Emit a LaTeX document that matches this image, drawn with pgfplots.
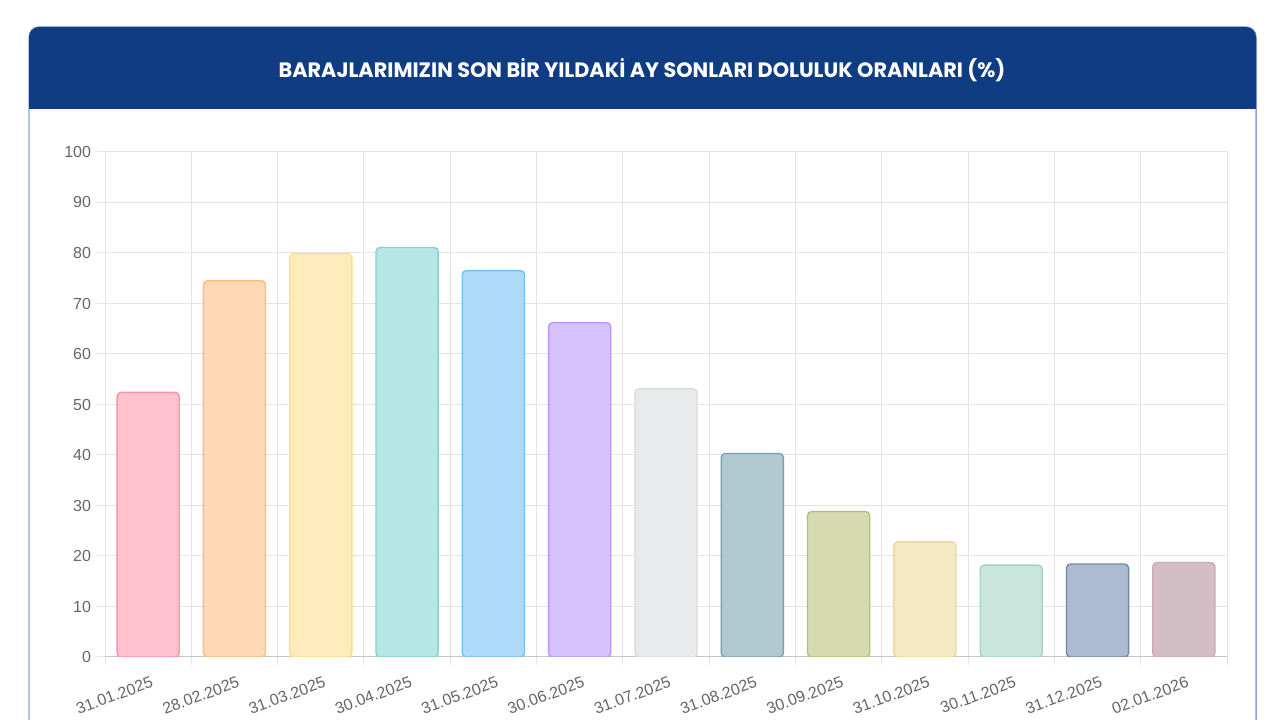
\documentclass[border=0pt]{standalone}
\usepackage{fontspec}
\usepackage{pgfplots}
\pgfplotsset{compat=1.18}
\setmainfont{Liberation Sans}
\newfontfamily\titlefont{Poppins}

\definecolor{headblue}{HTML}{0F3C82}
\definecolor{cardline}{HTML}{8EA6CF}
\definecolor{gridgray}{HTML}{E3E3E3}
\definecolor{ticktext}{HTML}{666666}
% bar fills / borders
\definecolor{f1}{HTML}{FFC1CE}\definecolor{b1}{RGB}{255,99,132}
\definecolor{f2}{HTML}{FFD9B3}\definecolor{b2}{RGB}{255,159,64}
\definecolor{f3}{HTML}{FFEBBB}\definecolor{b3}{RGB}{255,205,86}
\definecolor{f4}{HTML}{B7E6E6}\definecolor{b4}{RGB}{75,192,192}
\definecolor{f5}{HTML}{AFDAF7}\definecolor{b5}{RGB}{54,162,235}
\definecolor{f6}{HTML}{D6C2FF}\definecolor{b6}{RGB}{153,102,255}
\definecolor{f7}{HTML}{E9EAEC}\definecolor{b7}{RGB}{201,203,207}
\definecolor{f8}{HTML}{B0C9CE}\definecolor{b8}{RGB}{57,122,135}
\definecolor{f9}{HTML}{D5DAB0}\definecolor{b9}{RGB}{150,162,57}
\definecolor{f10}{HTML}{F5E9C5}\definecolor{b10}{RGB}{230,200,110}
\definecolor{f11}{HTML}{C9E5DC}\definecolor{b11}{RGB}{120,195,172}
\definecolor{f12}{HTML}{ADBBD0}\definecolor{b12}{RGB}{50,85,135}
\definecolor{f13}{HTML}{D4BEC6}\definecolor{b13}{RGB}{185,130,150}

\pgfplotsset{
  bar/.style n args={2}{ybar, bar width=0.72, bar shift=0pt,
    fill=#1, draw=#2!70!white, line width=1pt, rounded corners=3pt},
}

\begin{document}
\begin{tikzpicture}[x=0.75pt,y=0.75pt]
% canvas, 1 unit = 1 px of the reference
\fill[white] (0,0) rectangle (1280,720);
\useasboundingbox (0,0) rectangle (1280,720);

% card outline and header
\draw[cardline, line width=1.1pt] (29,0) -- (29,683) arc[start angle=180,end angle=90,radius=7.5pt]
  -- (1246,693) arc[start angle=90,end angle=0,radius=7.5pt] -- (1256,0);
\fill[headblue] (29,611) -- (29,683) arc[start angle=180,end angle=90,radius=7.5pt]
  -- (1246,693) arc[start angle=90,end angle=0,radius=7.5pt] -- (1256,611) -- cycle;
\node[text=white, font=\titlefont\bfseries\fontsize{15.6}{18}\selectfont] at (642,650)
  {BARAJLARIMIZIN SON BİR YILDAKİ AY SONLARI DOLULUK ORANLARI (\%)};

\begin{axis}[
  at={(78.75pt,47.25pt)}, anchor=south west,
  scale only axis, width=841.5pt, height=378.75pt,
  xmin=0.5, xmax=13.5, ymin=0, ymax=100,
  ytick={0,10,...,100},
  xtick={1,...,13},
  xticklabels={31.01.2025,28.02.2025,31.03.2025,30.04.2025,31.05.2025,30.06.2025,31.07.2025,
    31.08.2025,30.09.2025,31.10.2025,30.11.2025,31.12.2025,02.01.2026},
  minor xtick={0.5,1.5,...,13.5},
  xmajorgrids=false, xminorgrids=true, ymajorgrids=true,
  grid style={gridgray, line width=0.75pt},
  minor grid style={gridgray, line width=0.75pt},
  axis line style={draw=gridgray, line width=0.75pt},
  tick pos=left,
  tick align=outside,
  major tick length=6pt, minor tick length=6pt,
  tick style={gridgray, line width=0.75pt},
  every major x tick/.style={draw=none},
  /pgf/number format/assume math mode=true,
  ticklabel style={font=\fontsize{12}{14}\selectfont, text=ticktext},
  xticklabel style={rotate=20, anchor=north east, xshift=2pt, yshift=-5pt},
  yticklabel style={xshift=-1pt},
]
\draw[black!22, line width=0.75pt] (axis cs:0.5,0) -- (axis cs:13.5,0);
\addplot[bar={f1}{b1}]   coordinates {(1,52.4)};
\addplot[bar={f2}{b2}]   coordinates {(2,74.5)};
\addplot[bar={f3}{b3}]   coordinates {(3,79.9)};
\addplot[bar={f4}{b4}]   coordinates {(4,81.1)};
\addplot[bar={f5}{b5}]   coordinates {(5,76.5)};
\addplot[bar={f6}{b6}]   coordinates {(6,66.2)};
\addplot[bar={f7}{b7}]   coordinates {(7,53.1)};
\addplot[bar={f8}{b8}]   coordinates {(8,40.3)};
\addplot[bar={f9}{b9}]   coordinates {(9,28.8)};
\addplot[bar={f10}{b10}] coordinates {(10,22.8)};
\addplot[bar={f11}{b11}] coordinates {(11,18.2)};
\addplot[bar={f12}{b12}] coordinates {(12,18.4)};
\addplot[bar={f13}{b13}] coordinates {(13,18.7)};
\end{axis}
\end{tikzpicture}
\end{document}
